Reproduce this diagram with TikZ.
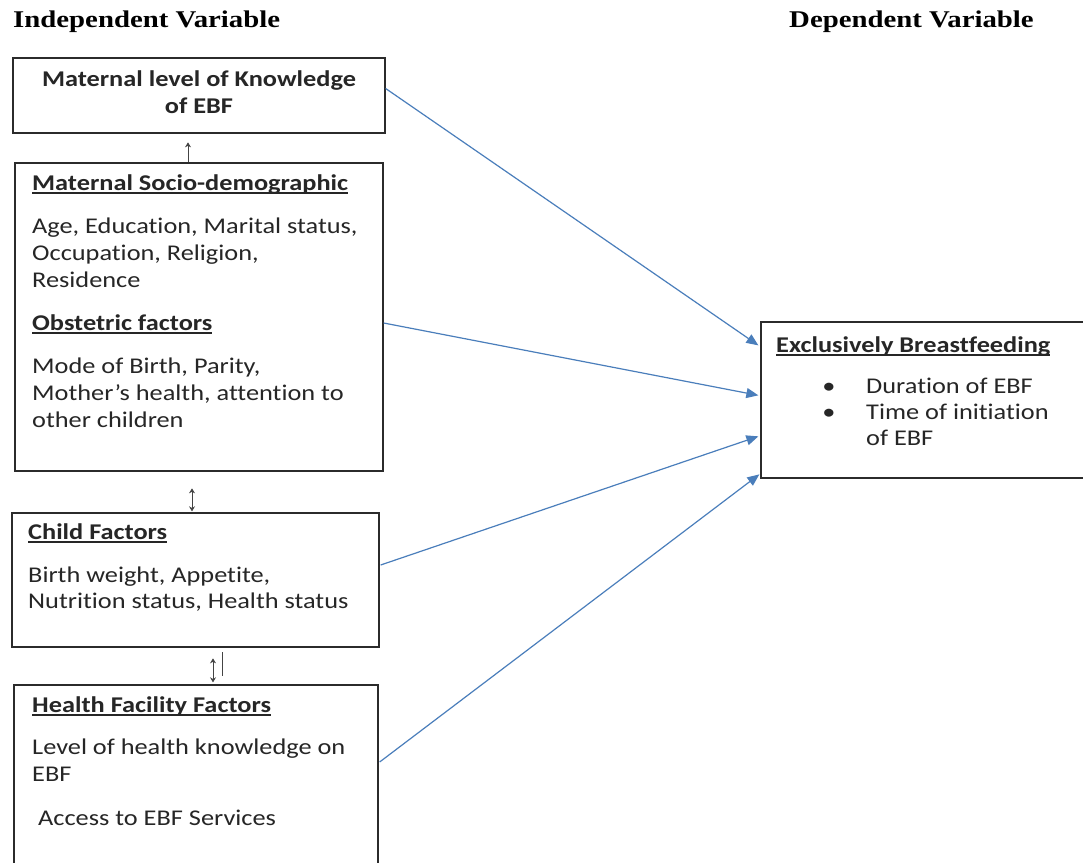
\documentclass[tikz,border=0pt]{standalone}
\usepackage{fontspec}
\setmainfont{Carlito}[FakeStretch=1.17, Ligatures=NoCommon]
\newfontfamily\headfont{Liberation Serif}[FakeStretch=1.2]
\usetikzlibrary{arrows.meta,calc}
\definecolor{txtc}{HTML}{262626}
\definecolor{boxc}{HTML}{2B2B2B}
\definecolor{linkc}{HTML}{4A7EBB}
\definecolor{relc}{HTML}{444444}
\newcommand\myul[1]{\setbox0\hbox{#1}\rlap{\rule[-3.5pt]{\wd0}{1.2pt}}\box0}
\tikzset{
  box/.style={draw=boxc, line width=1.3pt, inner sep=0pt},
  txt/.style={anchor=base west, inner sep=0pt, text=txtc, font=\fontsize{22.5}{26.5}\selectfont},
  hd/.style={txt, font=\fontsize{22.5}{26.5}\selectfont\bfseries},
  ttl/.style={anchor=west, inner sep=0pt, text=black, font=\headfont\bfseries\fontsize{24}{28}\selectfont},
  link/.style={draw=linkc, line width=1.2pt, -{Triangle[length=12pt,width=10pt]}},
  rel/.style={draw=relc, line width=0.8pt}
}
\begin{document}
\begin{tikzpicture}[x=1pt,y=-1pt]
\clip (0,0) rectangle (1083,862);
\fill[white] (0,0) rectangle (1083,862);

% titles
\node[ttl] (ti) at (13,22) {Independent Variable};
\node[ttl] (td) at (789,22) {Dependent Variable};

% boxes
\node[box, minimum width=372pt, minimum height=75pt] (k) at (199,95.5) {};
\node[box, minimum width=368pt, minimum height=308pt] (s) at (199,317) {};
\node[box, minimum width=367pt, minimum height=134pt] (c) at (195.5,580) {};
\node[box, minimum width=364pt, minimum height=215pt] (h) at (196,792.5) {};
\node[box, minimum width=339pt, minimum height=156pt] (e) at (930.5,400) {};

% box 1
\node[hd, anchor=base] (k1) at (199,86) {Maternal level of Knowledge};
\node[hd, anchor=base] (k2) at (199,113) {of EBF};

% box 2
\node[hd] (s0) at (32,190) {\myul{Maternal Socio-demographic}};
\node[txt] (s1) at (32,233) {Age, Education, Marital status,};
\node[txt] (s2) at (32,260) {Occupation, Religion,};
\node[txt] (s3) at (32,287) {Residence};
\node[hd] (s4) at (32,330) {\myul{Obstetric factors}};
\node[txt] (s5) at (32,373) {Mode of Birth, Parity,};
\node[txt] (s6) at (32,400) {Mother’s health, attention to};
\node[txt] (s7) at (32,427) {other children};

% box 3
\node[hd] (c0) at (28,539) {\myul{Child Factors}};
\node[txt] (c1) at (28,582) {Birth weight, Appetite,};
\node[txt] (c2) at (28,608) {Nutrition status, Health status};

% box 4
\node[hd] (h0) at (32,712) {\myul{Health Facility Factors}};
\node[txt] (h1) at (32,754) {Level of health knowledge on};
\node[txt] (h2) at (32,781) {EBF};
\node[txt] (h3) at (38,825) {Access to EBF Services};

% box 5
\node[hd] (e0) at (776,352) {\myul{Exclusively Breastfeeding}};
\node[txt, anchor=base] (eb1) at (829,393) {\textbullet};
\node[txt] (e1) at (866,393) {Duration of EBF};
\node[txt, anchor=base] (eb2) at (829,419) {\textbullet};
\node[txt] (e2) at (866,419) {Time of initiation};
\node[txt] (e3) at (866,445) {of EBF};

% links to dependent variable
\draw[link] ($(k.east)+(0,-7)$) -- ($(e.north west)+(-2,24)$);
\draw[link] ($(s.east)+(0,6)$) -- ($(e.north west)+(-2,74)$);
\draw[link] ($(c.east)+(1,-15)$) -- ($(e.north west)+(-2,115)$);
\draw[link] ($(h.east)+(1,-30.5)$) -- ($(e.north west)+(-1,153)$);

% small relation arrows
\draw[rel, -{Stealth[length=5pt,width=6pt]}] ($(s.north)+(-11,0)$) -- ($(s.north)+(-11,-20)$);
\draw[rel, {Stealth[length=5pt,width=6pt]}-{Stealth[length=5pt,width=6pt]}] ($(c.north)+(-3.5,-1)$) -- ($(c.north)+(-3.5,-24)$);
\draw[rel, {Stealth[length=5pt,width=6pt]}-{Stealth[length=5pt,width=6pt]}] ($(h.north)+(17,-2)$) -- ($(h.north)+(17,-26)$);
\draw[rel, line width=1pt] ($(h.north)+(26,-32)$) -- ($(h.north)+(26,-8)$);
\end{tikzpicture}
\end{document}
